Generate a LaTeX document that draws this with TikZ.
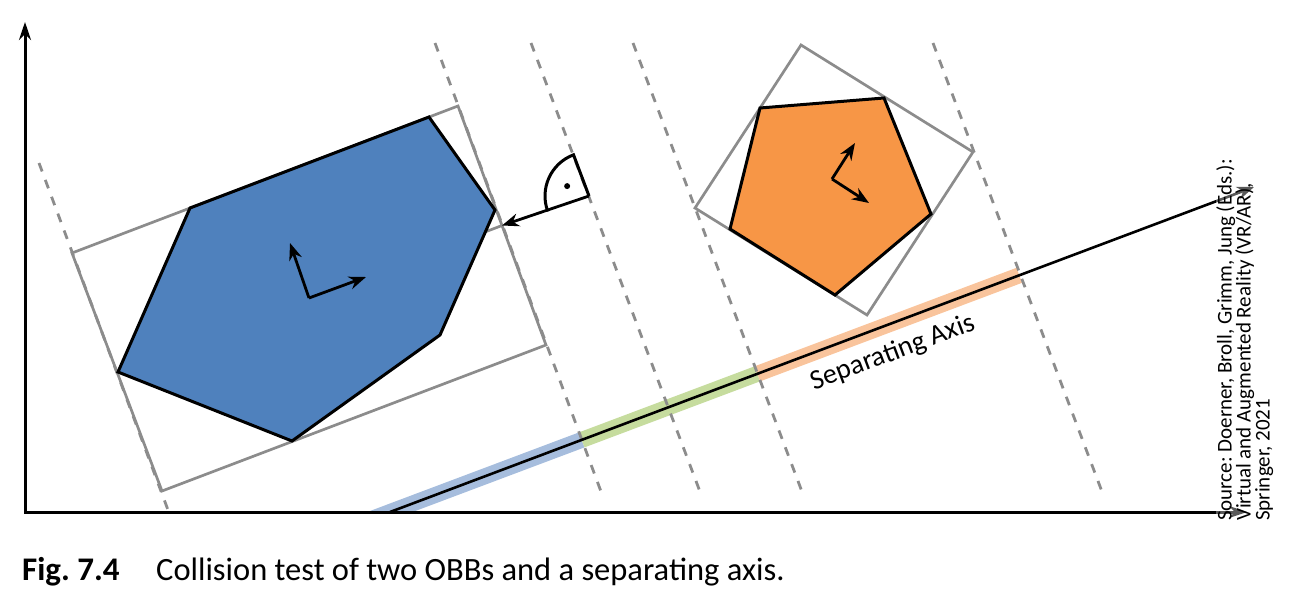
\documentclass[tikz,border=0pt]{standalone}
\usepackage{fontspec}
\setmainfont{Carlito}
\usetikzlibrary{arrows.meta, calc}
\definecolor{hullblue}{HTML}{4F81BD}
\definecolor{hullorange}{HTML}{F79646}
\definecolor{bandblue}{HTML}{A6BDDD}
\definecolor{bandgreen}{HTML}{C6DC9E}
\definecolor{bandorange}{HTML}{F9C49C}
\definecolor{boxgray}{HTML}{8C8C8C}
\frenchspacing

\begin{document}
\begin{tikzpicture}[x=1pt, y=-1pt,
  obb/.style={draw=boxgray, line width=2.7pt},
  hull/.style={draw=black, line width=3pt},
  proj/.style={draw=boxgray, line width=2.8pt, dash pattern=on 9pt off 9pt},
  band/.style={line width=16pt, line cap=butt},
  vec/.style={draw=black, line width=2.8pt, -{Stealth[length=17pt, width=13pt]}},
  every node/.style={font=\fontsize{28}{32}\selectfont, inner sep=0pt}
]
  \useasboundingbox (0,0) rectangle (1295,597);
  \coordinate (o) at (25,512);
  \coordinate (xend) at (1247,512);
  \coordinate (yend) at (25,22);
  \coordinate (s0) at (390,512);
  \coordinate (s1) at (1254,187);
  \coordinate (b1) at (72,253);
  \coordinate (b2) at (458,106);
  \coordinate (b3) at (546,345);
  \coordinate (b4) at (162,491);
  \coordinate (r1) at (801,45);
  \coordinate (r2) at (973,152);
  \coordinate (r3) at (867,315);
  \coordinate (r4) at (695,208);
  \coordinate (bc) at ($(b1)!0.5!(b3)$);
  \coordinate (bm) at ($(b2)!0.5!(b3)$);
  \coordinate (m) at (589,196);
  \coordinate (pb) at ($(s0)!(b3)!(s1)$);
  \coordinate (pr1) at ($(s0)!(r4)!(s1)$);
  \coordinate (pr2) at ($(s0)!(r2)!(s1)$);

  \begin{scope}
    \clip (25,0) rectangle (1295,511);
    \draw[band, bandblue] ($(s0)!-0.1!(s1)$) -- (pb);
    \draw[band, bandgreen] (pb) -- (pr1);
    \draw[band, bandorange] (pr1) -- (pr2);
  \end{scope}

  \draw[proj] (39,163) -- (168,510);
  \foreach \t/\u in {435/603, 531/702, 633/804, 933/1104}
    \draw[proj] (\t,43) -- (\u,497);

  \draw[obb] (bc) -- (bm);
  \draw[obb] (b1) -- (b2) -- (b3) -- (b4) -- cycle;
  \draw[obb] (r1) -- (r2) -- (r3) -- (r4) -- cycle;
  \draw[hull, fill=hullblue] (190,208) -- (429,117) -- (495,210) -- (440,335)
    -- (292,441) -- (118,372) -- cycle;
  \draw[hull, fill=hullorange] (760,108) -- (884,98) -- (931,214) -- (835,295)
    -- (730,229) -- cycle;

  \draw[vec] (309,298) -- (290,243);
  \draw[vec] (309,298) -- (366,277);
  \draw[vec] (832,179) -- (855,143);
  \draw[vec] (832,179) -- (869,203);

  \draw[hull] (m) -- ++(249.4:44) arc[start angle=249.4, end angle=159.4, radius=44];
  \fill ($(m)+(204.4:24)$) circle (3pt);
  \draw[vec] (m) -- (bm);

  \draw[vec, line width=2.6pt] (s0) -- (s1);
  \draw[line width=3pt, {Stealth[length=18pt, width=12pt]}-{Stealth[length=18pt, width=12pt]}]
    (yend) -- (o) -- (xend);

  \node[rotate=20.6] (lbl) at (893,353) {Separating Axis};
  \node[rotate=90, anchor=north west, align=left, font=\fontsize{21}{19}\selectfont,
    fill=white, fill opacity=0.35, text opacity=1] (src) at (1216,521)
    {Source: Doerner, Broll, Grimm, Jung (Eds.):\\Virtual and Augmented Reality (VR/AR),\\Springer, 2021};
  \node[anchor=base west, font=\fontsize{33}{40}\selectfont\bfseries] (fig) at (22,580) {Fig. 7.4};
  \node[anchor=base west, font=\fontsize{32.5}{40}\selectfont] (cap) at (156,580)
    {Collision test of two OBBs and a separating axis.};
\end{tikzpicture}
\end{document}
